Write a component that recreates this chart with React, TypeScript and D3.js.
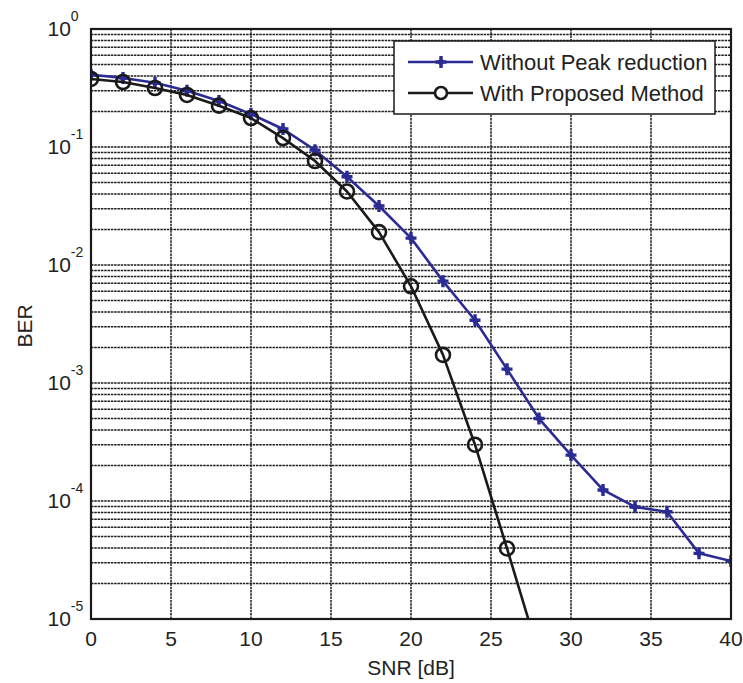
import React from "react";
import * as d3 from "d3";

const snrBlue = [0, 2, 4, 6, 8, 10, 12, 14, 16, 18, 20, 22, 24, 26, 28, 30, 32, 34, 36, 38, 40];
const berBlue = [0.41, 0.385, 0.35, 0.30, 0.245, 0.19, 0.142, 0.094, 0.056, 0.0316, 0.0169, 0.0073, 0.0034, 0.00131, 0.0005, 0.000245, 0.000124, 8.9e-5, 8.1e-5, 3.6e-5, 3.1e-5];
const snrBlack = [0, 2, 4, 6, 8, 10, 12, 14, 16, 18, 20, 22, 24, 26, 28];
const berBlack = [0.377, 0.355, 0.316, 0.276, 0.224, 0.176, 0.119, 0.076, 0.042, 0.019, 0.0066, 0.00173, 0.0003, 3.96e-5, 5.0e-6];
const xTicks = [0, 5, 10, 15, 20, 25, 30, 35, 40];
const yExponents = [0, -1, -2, -3, -4, -5];
const seriesNames = ["Without Peak reduction", "With Proposed Method"];

const W = 743, H = 683;
const L = 91, R = 731, T = 29, B = 619;
const BLUE = "#2b2b94";
const FONT = "'Liberation Sans', Arial, Helvetica, sans-serif";

export default function App() {
  const x = d3.scaleLinear().domain([0, 40]).range([L, R]);
  const y = d3.scaleLog().domain([1e-5, 1]).range([B, T]);

  const minor: number[] = [];
  for (let e = -5; e < 0; e++) for (let m = 2; m <= 9; m++) minor.push(m * Math.pow(10, e));

  const line = d3.line<[number, number]>().x(d => x(d[0])).y(d => y(d[1]));
  const blueData: [number, number][] = snrBlue.map((s, i) => [s, berBlue[i]]);
  const blackData: [number, number][] = snrBlack.map((s, i) => [s, berBlack[i]]);

  const gridStyle = { stroke: "#1e1e1e", strokeWidth: 1.5, strokeDasharray: "2.5,0.8" };

  const plus = (cx: number, cy: number, k: string | number) => (
    <g key={k}>
      <path d={`M${cx - 5.5},${cy}H${cx + 5.5}M${cx},${cy - 6}V${cy + 6}`} stroke={BLUE} strokeWidth={3.4} />
      <path d={`M${cx},${cy - 4.5}L${cx + 4},${cy}L${cx},${cy + 4.5}L${cx - 4},${cy}Z`} fill={BLUE} />
    </g>
  );

  return (
    <svg width={W} height={H} style={{ position: "absolute", left: 0, top: 0, background: "#fff" }} fontFamily={FONT}>
      <defs>
        <clipPath id="plotclip">
          <rect x={L} y={T} width={R - L} height={B - T} />
        </clipPath>
      </defs>
      <rect x={0} y={0} width={W} height={H} fill="#fff" />
      {/* grid */}
      <g>
        {xTicks.slice(1, -1).map(t => (
          <line key={"vx" + t} x1={x(t)} x2={x(t)} y1={T} y2={B} {...gridStyle} />
        ))}
        {yExponents.slice(1, -1).map(e => (
          <line key={"hy" + e} x1={L} x2={R} y1={y(Math.pow(10, e))} y2={y(Math.pow(10, e))} {...gridStyle} />
        ))}
        {minor.map((v, i) => (
          <line key={"mn" + i} x1={L} x2={R} y1={y(v)} y2={y(v)} {...gridStyle} />
        ))}
      </g>
      {/* data */}
      <g clipPath="url(#plotclip)">
        <path d={line(blueData) || ""} fill="none" stroke={BLUE} strokeWidth={2.6} strokeLinejoin="round" />
        {blueData.map((d, i) => plus(x(d[0]), y(d[1]), "b" + i))}
        <path d={line(blackData) || ""} fill="none" stroke="#1a1a1a" strokeWidth={2.6} strokeLinejoin="round" />
        {blackData.map((d, i) => (
          <circle key={"c" + i} cx={x(d[0])} cy={y(d[1])} r={7} fill="none" stroke="#1a1a1a" strokeWidth={2.6} />
        ))}
      </g>
      {/* frame */}
      <rect x={L} y={T} width={R - L} height={B - T} fill="none" stroke="#1a1a1a" strokeWidth={2.2} />
      {/* x tick labels */}
      {xTicks.map(t => (
        <text key={"xt" + t} x={x(t)} y={646} textAnchor="middle" fontSize={21} fill="#222">{t}</text>
      ))}
      {/* y tick labels */}
      {yExponents.map(e => (
        <text key={"yt" + e} x={47.5} y={y(Math.pow(10, e)) + 6.5} fontSize={21} fill="#222">
          10<tspan fontSize={14} dy={-14.5}>{e}</tspan>
        </text>
      ))}
      <text x={(L + R) / 2} y={675} textAnchor="middle" fontSize={21} fill="#222">SNR [dB]</text>
      <text transform={`translate(32,${(T + B) / 2 + 2}) rotate(-90)`} textAnchor="middle" fontSize={21} fill="#222">BER</text>
      {/* legend */}
      <g>
        <rect x={394} y={41} width={321} height={73} fill="#fff" stroke="#1a1a1a" strokeWidth={1.5} />
        <line x1={408} x2={473} y1={62} y2={62} stroke={BLUE} strokeWidth={2.6} />
        {plus(441, 62, "lg1")}
        <text x={480} y={70} fontSize={22} fill="#222">{seriesNames[0]}</text>
        <line x1={408} x2={473} y1={93} y2={93} stroke="#1a1a1a" strokeWidth={2.6} />
        <circle cx={441} cy={93} r={6} fill="#fff" stroke="#1a1a1a" strokeWidth={2.6} />
        <text x={480} y={101} fontSize={22} fill="#222">{seriesNames[1]}</text>
      </g>
    </svg>
  );
}
